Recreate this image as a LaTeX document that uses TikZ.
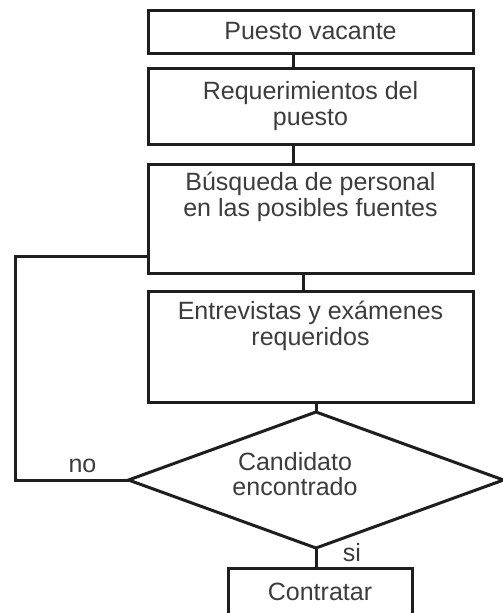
\documentclass[tikz,border=0pt]{standalone}
\usepackage{fontspec}
\setmainfont{Liberation Sans}
\usepackage{xcolor}
\usepackage{tikz}
\usetikzlibrary{positioning,shapes.geometric}
\definecolor{txtgray}{HTML}{3C3C3C}
\definecolor{linegray}{HTML}{1E1E1E}

\begin{document}
\begin{tikzpicture}[x=1pt, y=1pt,
        txt/.style={text=txtgray, align=center, inner sep=0pt, font=\fontsize{25}{25.5}\selectfont},
        box/.style={txt, rectangle, draw=linegray, line width=3pt, outer sep=0pt, minimum width=325pt},
        decision/.style={diamond, draw=linegray, line width=3pt, inner sep=0pt, outer sep=0pt, minimum width=375pt, minimum height=136pt},
        conn/.style={draw=linegray, line width=3pt}]
        \useasboundingbox (0,0) rectangle (503,-613);
        \node[box, minimum height=43pt] (vacante) at (310.5,-31.5) {Puesto vacante};
        \node[box, minimum height=76pt, below = 15pt of vacante] (requisitos) {Requerimientos del\\puesto};
        \node[box, minimum height=109pt, below = 20pt of requisitos] (busqueda) {};
        \node[txt, below = 8pt of busqueda.north] (busquedatxt) {Búsqueda de personal\\en las posibles fuentes};
        \node[box, minimum height=111pt, below = 18pt of busqueda] (entrevistas) {};
        \node[txt, below = 10pt of entrevistas.north] (entrevistastxt) {Entrevistas y exámenes\\requeridos};
        \node[decision, below = 10pt of entrevistas, xshift=5.5pt] (candidato) {};
        \node[txt] (candidatotxt) at ([xshift=-21pt, yshift=6pt]candidato.center) {Candidato\\encontrado};
        \node[box, minimum width=184pt, minimum height=48pt, below = 20pt of candidato, xshift=4pt] (contratar) {Contratar};
        \node[txt] (no) at ([xshift=-46pt, yshift=14pt]candidato.west) {no};
        \node[txt] (si) at ([xshift=36pt, yshift=-5pt]candidato.south) {si};
        \draw[conn] ([xshift=-17.5pt]vacante.south) -- ([xshift=-17.5pt]requisitos.north);
        \draw[conn] ([xshift=-17.5pt]requisitos.south) -- ([xshift=-17.5pt]busqueda.north);
        \draw[conn] ([xshift=-7.5pt]busqueda.south) -- ([xshift=-7.5pt]entrevistas.north);
        \draw[conn] (entrevistas.south -| candidato.north) -- (candidato.north);
        \draw[conn] (candidato.south) -- (candidato.south |- contratar.north);
        \draw[conn] (candidato.west) -| ([xshift=-133pt, yshift=-37.5pt]busqueda.west) -- ([yshift=-37.5pt]busqueda.west);
    \end{tikzpicture}
\end{document}
